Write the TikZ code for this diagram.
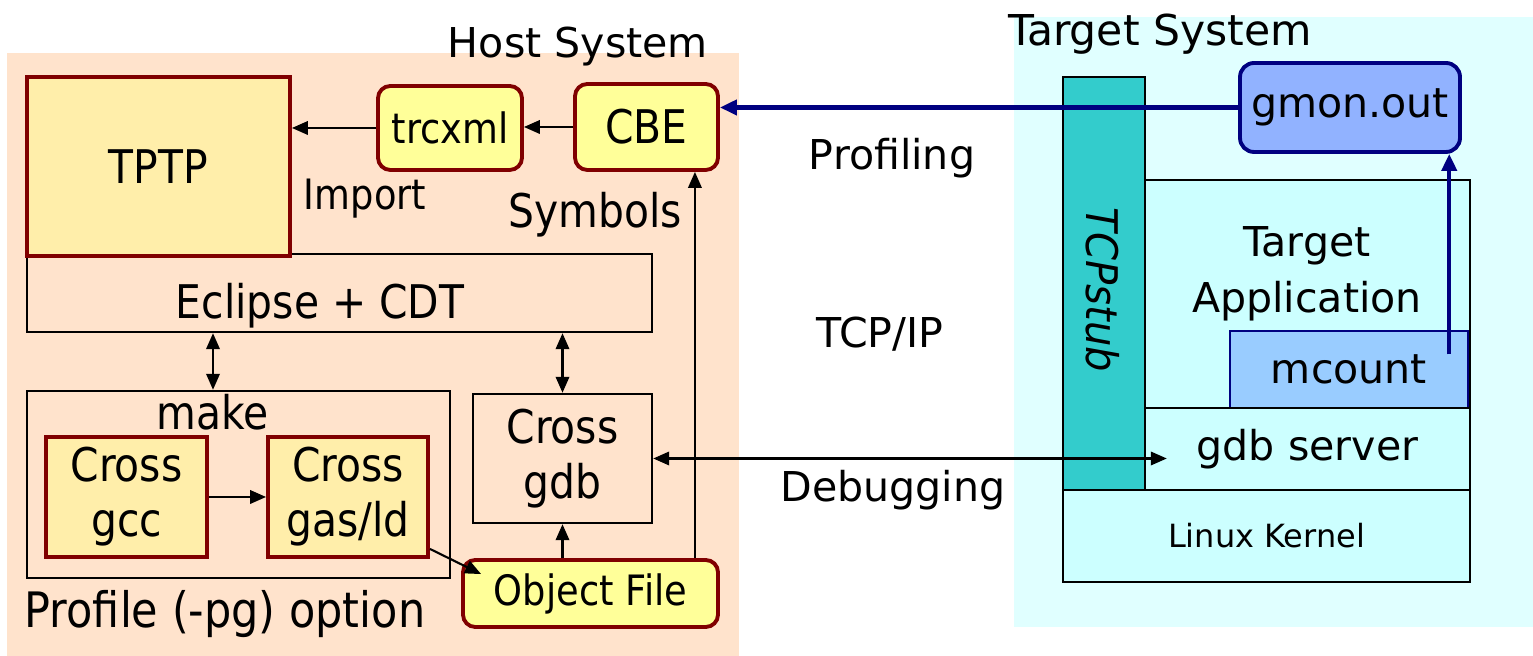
\documentclass[tikz,border=0pt]{standalone}
\usepackage{fontspec}
\setmainfont{DejaVu Sans}
\newfontfamily\hostfont[FakeStretch=0.88]{DejaVu Sans}
\newfontfamily\stubfont[FakeStretch=0.92]{DejaVu Sans}
\usetikzlibrary{arrows.meta, positioning}
\definecolor{hostpeach}{RGB}{255,227,204}
\definecolor{tgtcyan}{RGB}{224,255,255}
\definecolor{boxcyan}{RGB}{204,255,255}
\definecolor{stubteal}{RGB}{51,204,204}
\definecolor{paleyel}{RGB}{255,238,170}
\definecolor{brightyel}{RGB}{255,255,153}
\definecolor{darkred}{RGB}{128,0,0}
\definecolor{navyblue}{RGB}{0,0,128}
\definecolor{mcblue}{RGB}{153,204,255}
\definecolor{gmblue}{RGB}{145,178,255}

\begin{document}
\begin{tikzpicture}[
  hfont/.style={font=\hostfont\fontsize{13.2}{15.6}\selectfont},
  hsmall/.style={font=\hostfont\fontsize{11.9}{14}\selectfont},
  tfont/.style={font=\fontsize{11.7}{16}\selectfont},
  bg/.style={inner sep=0pt, outer sep=0pt},
  hbox/.style={draw, line width=0.7pt, inner sep=0pt, hfont, align=center},
  ybox/.style={hbox, draw=darkred, line width=1.1pt, fill=paleyel},
  rbox/.style={ybox, fill=brightyel, rounded corners=3.5pt},
  tbox/.style={draw, line width=0.7pt, fill=boxcyan, inner sep=0pt, tfont},
  arr/.style={-{Triangle[length=1.6mm, width=1.35mm]}, line width=0.6pt},
  darr/.style={{Triangle[length=1.6mm, width=1.35mm]}-{Triangle[length=1.6mm, width=1.35mm]}, line width=0.6pt},
  narr/.style={-{Triangle[length=1.7mm, width=1.5mm]}, line width=1.2pt, navyblue},
]
  \useasboundingbox (0,0) rectangle (15.33,6.56);

  % backgrounds
  \node[bg, fill=hostpeach, minimum width=7.32cm, minimum height=6.03cm] (host) at (3.73,3.015) {};
  \node[bg, fill=tgtcyan, minimum width=5.19cm, minimum height=6.10cm] (tgt) at (12.735,3.34) {};
  \node[tfont] (hostlbl) at (5.78,6.09) {Host System};
  \node[tfont, font=\fontsize{12.1}{16}\selectfont] (tgtlbl) at (11.60,6.22) {Target System};

  % host system
  \node[hbox, minimum width=6.25cm, minimum height=0.78cm] (ecl) at (3.395,3.63) {};
  \node[hfont] (ecltxt) at (3.20,3.50) {Eclipse + CDT};
  \node[ybox, minimum width=2.63cm, minimum height=1.79cm] (tptp) at (1.585,4.895) {TPTP};
  \node[rbox, hsmall, minimum width=1.44cm, minimum height=0.84cm] (trc) at (4.50,5.28) {trcxml};
  \node[rbox, minimum width=1.43cm, minimum height=0.86cm] (cbe) at (6.465,5.29) {CBE};
  \node[hsmall] (imp) at (3.65,4.57) {Import};
  \node[hfont] (sym) at (5.95,4.41) {Symbols};

  \node[hbox, minimum width=4.23cm, minimum height=1.87cm] (make) at (2.385,1.715) {};
  \node[hfont] (maketxt) at (2.13,2.44) {make};
  \node[ybox, minimum width=1.61cm, minimum height=1.20cm] (gcc) at (1.265,1.59) {Cross\\gcc};
  \node[ybox, minimum width=1.60cm, minimum height=1.20cm] (gas) at (3.48,1.59) {Cross\\gas/ld};
  \node[hbox, minimum width=1.79cm, minimum height=1.29cm] (gdb) at (5.625,1.975) {Cross\\gdb};
  \node[rbox, hsmall, minimum width=2.55cm, minimum height=0.67cm] (obj) at (5.905,0.625) {Object File};
  \node[font=\hostfont\fontsize{13.9}{16}\selectfont] (pgopt) at (2.25,0.42) {Profile (-pg) option};

  % target system
  \node[tbox, fill=stubteal, minimum width=0.82cm, minimum height=4.13cm] (stub) at (11.04,3.725) {};
  \node[font=\stubfont\itshape\fontsize{12.4}{15}\selectfont, rotate=-90] (stubtxt) at (11.03,3.66) {TCPstub};
  \node[tbox, minimum width=3.25cm, minimum height=2.28cm] (app) at (13.075,3.62) {};
  \node[tfont, align=center] (apptxt) at (13.07,3.82) {Target\\Application};
  \node[tbox, draw=navyblue, fill=mcblue, minimum width=2.38cm, minimum height=0.77cm] (mc) at (13.49,2.865) {mcount};
  \node[tbox, minimum width=3.25cm, minimum height=0.82cm] (srv) at (13.075,2.07) {gdb server};
  \node[tbox, font=\fontsize{9.1}{11}\selectfont, minimum width=4.07cm, minimum height=0.92cm] (kern) at (12.665,1.20) {Linux Kernel};
  \node[tbox, draw=navyblue, line width=1.1pt, fill=gmblue, rounded corners=4pt,
        minimum width=2.20cm, minimum height=0.89cm] (gmon) at (13.50,5.485) {gmon.out};

  % links
  \node[tfont] (prof) at (8.92,4.98) {Profiling};
  \node[tfont] (tcp) at (8.80,3.22) {TCP/IP};
  \node[tfont] (dbg) at (8.93,1.66) {Debugging};

  \draw[arr] (cbe.west) -- (cbe.west -| trc.east);
  \draw[arr] (trc.west) -- (trc.west -| tptp.east);
  \draw[darr] (maketxt |- ecl.south) -- (maketxt |- make.north);
  \draw[darr] (gdb.north |- ecl.south) -- (gdb.north);
  \draw[arr] (gcc) -- (gas);
  \draw[arr] ([yshift=1mm]gas.south east) -- ([xshift=2mm,yshift=-1.6mm]obj.north west);
  \draw[arr] (obj.north -| gdb.south) -- (gdb.south);
  \coordinate (symup) at ([xshift=-2.5mm]cbe.south east);
  \draw[arr] (obj.north -| symup) -- (symup);
  \draw[narr] (gmon.west) -- (gmon.west -| cbe.east);
  \coordinate (mcup) at ([xshift=-2mm,yshift=1.5mm]mc.east);
  \draw[narr] (mcup) -- (mcup |- gmon.south);
  \coordinate (dbgtip) at ([xshift=2.3mm]srv.west);
  \draw[darr] (gdb.east) -- (gdb.east -| dbgtip);
\end{tikzpicture}
\end{document}
